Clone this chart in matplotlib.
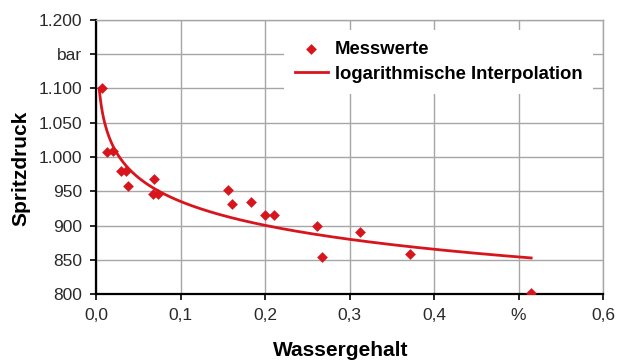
import numpy as np
import matplotlib.pyplot as plt

# Messwerte: Wassergehalt (%) und Spritzdruck (bar)
wasser = [0.0075, 0.0135, 0.020, 0.029, 0.035, 0.038, 0.067, 0.069, 0.073,
          0.156, 0.161, 0.183, 0.200, 0.211, 0.262, 0.267, 0.312, 0.372, 0.515]
druck = [1100, 1008, 1009, 980, 980, 958, 946, 968, 946,
         952, 931, 934, 915, 915, 900, 854, 890, 858, 802]

x_ticks = [0.0, 0.1, 0.2, 0.3, 0.4, 0.5, 0.6]
x_labels = ["0,0", "0,1", "0,2", "0,3", "0,4", "%", "0,6"]
y_ticks = [800, 850, 900, 950, 1000, 1050, 1100, 1150, 1200]
y_labels = ["800", "850", "900", "950", "1.000", "1.050", "1.100", "bar", "1.200"]

rot = "#d8141c"
plt.rcParams["font.family"] = ["Liberation Sans", "DejaVu Sans"]

# logarithmische Interpolation y = a + b*ln(x), Kurve ab dem ersten Messwert
b, a = np.polyfit(np.log(wasser), druck, 1)
x_start = np.exp((druck[0] - a) / b)
xs = np.linspace(x_start, max(wasser), 400)
ys = a + b * np.log(xs)

fig = plt.figure(figsize=(6.17, 3.6), dpi=100)
ax = fig.add_axes([96 / 617, 66 / 360, 507 / 617, 274 / 360])

ax.scatter(wasser, druck, marker="D", s=30, color=rot, lw=0, zorder=3, label="Messwerte")
ax.plot(xs, ys, color=rot, lw=2.0, zorder=2, label="logarithmische Interpolation")

ax.set_xlim(0, 0.6)
ax.set_ylim(800, 1200)
ax.set_xticks(x_ticks)
ax.set_xticklabels(x_labels)
ax.set_yticks(y_ticks)
ax.set_yticklabels(y_labels)
ax.tick_params(labelsize=12.5, labelcolor="#2a2a2a", length=4, width=1.2, pad=6)

ax.grid(True, color="#a6a6a6", lw=1)
ax.set_axisbelow(True)
for s in ["top", "right"]:
    ax.spines[s].set_color("#a6a6a6")
    ax.spines[s].set_linewidth(1)
for s in ["left", "bottom"]:
    ax.spines[s].set_color("black")
    ax.spines[s].set_linewidth(1.6)

ax.set_xlabel("Wassergehalt", fontsize=15, fontweight="bold")
ax.set_ylabel("Spritzdruck", fontsize=15, fontweight="bold")
ax.xaxis.set_label_coords((341 - 96) / 507, -0.172)
ax.yaxis.set_label_coords(-0.130, 0.458)

leg = ax.legend(loc="upper right", bbox_to_anchor=(1 - 7 / 507, 1 - 7 / 274),
                fontsize=13.3, frameon=True, fancybox=False,
                framealpha=1, edgecolor="none", borderaxespad=0.15, borderpad=0.6,
                handlelength=1.8, handletextpad=0.35, labelspacing=0.42)
for t in leg.get_texts():
    t.set_fontweight("bold")

fig.savefig("out.png", dpi=100)
